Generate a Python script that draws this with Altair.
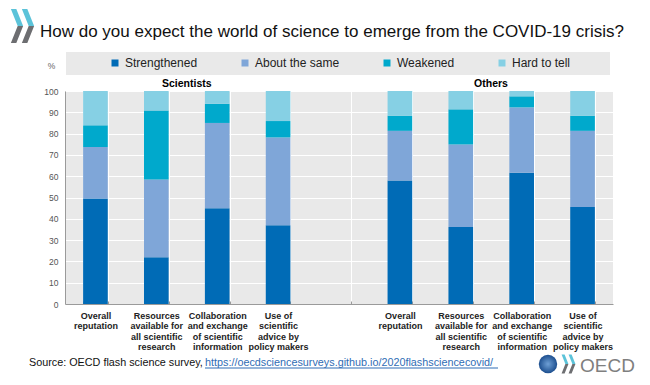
import altair as alt
import pandas as pd

FONT = "Liberation Sans"

title_text = "How do you expect the world of science to emerge from the COVID-19 crisis?"
source_text = "Source: OECD flash science survey,"
link_text = "https://oecdsciencesurveys.github.io/2020flashsciencecovid/"
group_labels = ["Scientists", "Others"]
percent_label = "%"
logo_text = "OECD"

series = ["Strengthened", "About the same", "Weakened", "Hard to tell"]
colors = ["#006bb6", "#7fa6d8", "#00a9cc", "#86d0e4"]

categories = [
    "S|Overall|reputation",
    "S|Resources|available for|all scientific|research",
    "S|Collaboration|and exchange|of scientific|information",
    "S|Use of|scientific|advice by|policy makers",
    "G|",
    "O|Overall|reputation",
    "O|Resources|available for|all scientific|research",
    "O|Collaboration|and exchange|of scientific|information",
    "O|Use of|scientific|advice by|policy makers",
]
sci_cats = categories[0:4]
oth_cats = categories[5:9]

sci_strengthened = [49.5, 22.0, 45.0, 37.0]
sci_same = [24.2, 36.5, 40.0, 41.2]
sci_weakened = [10.2, 32.4, 9.0, 7.7]
sci_hard = [16.1, 9.1, 6.0, 14.1]

oth_strengthened = [58.0, 36.2, 61.6, 45.5]
oth_same = [23.3, 38.7, 30.7, 35.8]
oth_weakened = [7.1, 16.5, 5.2, 7.1]
oth_hard = [11.6, 8.6, 2.5, 11.6]

rows = []
for cats, vals in [
    (sci_cats, [sci_strengthened, sci_same, sci_weakened, sci_hard]),
    (oth_cats, [oth_strengthened, oth_same, oth_weakened, oth_hard]),
]:
    for rank, (s, v) in enumerate(zip(series, vals)):
        for c, val in zip(cats, v):
            rows.append({"cat": c, "series": s, "rank": rank, "value": val})
df = pd.DataFrame(rows)

W, H = 548, 213

xscale = alt.Scale(domain=categories, paddingInner=0.595, paddingOuter=0.2975)
yaxis = alt.Axis(title=None, values=list(range(0, 101, 10)), gridColor="white",
                 gridWidth=1, domainColor="#9a9a9a", ticks=False,
                 labelFont=FONT, labelFontSize=8.5, labelColor="#555555",
                 labelPadding=7)
yenc = alt.Y("value:Q", stack="zero", scale=alt.Scale(domain=[0, 100]), axis=yaxis)

bars = alt.Chart(df).mark_bar().encode(
    x=alt.X("cat:N", sort=categories, scale=xscale,
            axis=alt.Axis(title=None, labelExpr="slice(split(datum.value, '|'), 1)",
                          labelAngle=0, tickBand="extent", grid=True, gridColor="white",
                          ticks=False, domainColor="#9a9a9a", labelFont=FONT,
                          labelFontSize=9, labelFontWeight="bold", labelColor="#222222",
                          labelPadding=7, labelLineHeight=10.5, labelBaseline="top")),
    y=yenc,
    color=alt.Color("series:N", scale=alt.Scale(domain=series, range=colors),
                    legend=alt.Legend(orient="none", legendX=44, legendY=-34,
                                      direction="horizontal", title=None,
                                      symbolType="square", symbolSize=49,
                                      symbolStrokeWidth=0, labelFontSize=12,
                                      labelFont=FONT, labelColor="#222222",
                                      columnPadding=41, labelOffset=4, padding=0)),
    order=alt.Order("rank:Q", sort="ascending"),
)

ticks_layer = alt.Chart(df).mark_tick(opacity=0).encode(
    x=alt.X("cat:N", sort=categories, scale=xscale,
            axis=alt.Axis(title=None, orient="top", offset=-H, labels=False, domain=False,
                          grid=False, ticks=True, tickSize=3, tickColor="#9a9a9a",
                          tickBand="extent")),
    y=yenc,
)


def label(text, x, y, size, weight="normal", color="#000000", align="left"):
    return alt.Chart(pd.DataFrame({"t": [text]})).mark_text(
        align=align, baseline="alphabetic", fontSize=size, font=FONT,
        fontWeight=weight, color=color,
    ).encode(x=alt.value(x), y=alt.value(y), text="t:N")


legend_box = alt.Chart(pd.DataFrame({"a": [0]})).mark_rect(color="#e9e9e9").encode(
    x=alt.value(1), x2=alt.value(545), y=alt.value(-39), y2=alt.value(-16))

link_line = alt.Chart(pd.DataFrame({"a": [0]})).mark_rule(color="#2f6db5", strokeWidth=1).encode(
    x=alt.value(140), x2=alt.value(433), y=alt.value(277))

globe = alt.Chart(pd.DataFrame({"a": [0]})).mark_point(
    filled=True, shape="circle", size=340, opacity=1,
    color=alt.Gradient(gradient="radial", stops=[alt.GradientStop(color="#6fa0d6", offset=0),
                                                 alt.GradientStop(color="#1d4f8f", offset=1)]),
).encode(x=alt.value(483), y=alt.value(273))

CHEVRON = "M -0.36,-1 L -0.04,-1 L 0.36,0 L -0.04,1 L -0.36,1 L 0.04,0 Z"
chev_fill = alt.Gradient(gradient="linear", x1=0, x2=0, y1=0, y2=1,
                         stops=[alt.GradientStop(color="#5cc3d9", offset=0),
                                alt.GradientStop(color="#5cc3d9", offset=0.5),
                                alt.GradientStop(color="#6d6e71", offset=0.5),
                                alt.GradientStop(color="#6d6e71", offset=1)])


def chevron(x, y, size):
    return alt.Chart(pd.DataFrame({"a": [0]})).mark_point(
        filled=True, shape=CHEVRON, size=size, opacity=1, color=chev_fill, strokeWidth=0,
    ).encode(x=alt.value(x), y=alt.value(y))


chart = alt.layer(
    legend_box,
    bars,
    ticks_layer,
    label(title_text, -25, -54, 17, color="#111111"),
    label(percent_label, -13.5, -22, 8.5, color="#666666", align="center"),
    label(group_labels[0], 121.8, -4.5, 10.5, weight="bold", align="center"),
    label(group_labels[1], 426, -4.5, 10.5, weight="bold", align="center"),
    label(source_text, -36, 275, 10.8, color="#111111"),
    label(link_text, 140, 275, 10.8, color="#2f6db5"),
    link_line,
    globe,
    chevron(-48, -65, 1156),
    chevron(-37, -65, 1156),
    chevron(500, 273, 361),
    chevron(507, 273, 361),
    label(logo_text, 515, 281, 19, color="#7f7f7f"),
).resolve_axis(x="independent").properties(
    width=W, height=H,
    autosize=alt.AutoSizeParams(type="none"),
    padding={"left": 57, "top": 83, "right": 29, "bottom": 73},
).configure_view(fill="#e9e9e9", strokeWidth=0)

chart.save("out.html", embed_options={"renderer": "svg", "actions": False})
